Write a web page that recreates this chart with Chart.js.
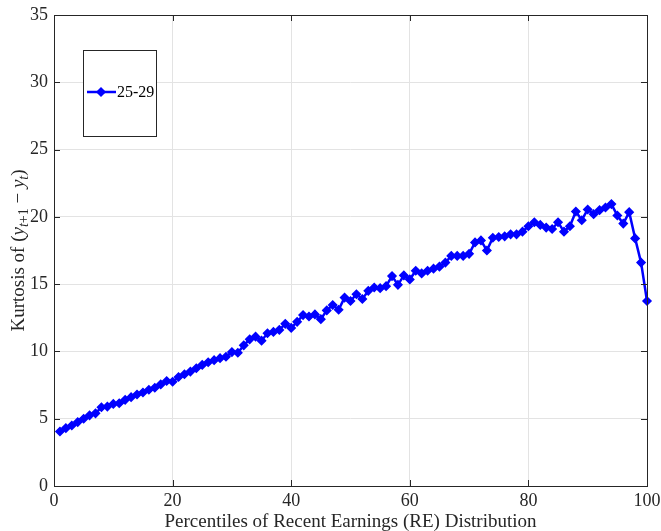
<!DOCTYPE html>
<html>
<head>
<meta charset="utf-8">
<script src="https://cdn.jsdelivr.net/npm/chart.js@4.4.1/dist/chart.umd.min.js"></script>
<style>
  html, body { margin: 0; padding: 0; background: #fff; }
  canvas { display: block; }
</style>
</head>
<body>
<canvas id="kurtChart" width="661" height="531"></canvas>
<script>
  // Percentiles of recent earnings (x) and kurtosis of earnings growth (y), age group 25-29
  const percentiles = [
    1, 2, 3, 4, 5, 6, 7, 8, 9, 10, 11, 12, 13, 14, 15, 16, 17, 18, 19, 20,
    21, 22, 23, 24, 25, 26, 27, 28, 29, 30, 31, 32, 33, 34, 35, 36, 37, 38, 39, 40,
    41, 42, 43, 44, 45, 46, 47, 48, 49, 50, 51, 52, 53, 54, 55, 56, 57, 58, 59, 60,
    61, 62, 63, 64, 65, 66, 67, 68, 69, 70, 71, 72, 73, 74, 75, 76, 77, 78, 79, 80,
    81, 82, 83, 84, 85, 86, 87, 88, 89, 90, 91, 92, 93, 94, 95, 96, 97, 98, 99, 100
  ];
  const kurtosis = [
    4.05, 4.30, 4.50, 4.75, 5.00, 5.25, 5.40, 5.85, 5.90, 6.10,
    6.15, 6.40, 6.60, 6.80, 6.95, 7.15, 7.30, 7.55, 7.80, 7.75,
    8.10, 8.30, 8.50, 8.75, 9.00, 9.20, 9.35, 9.50, 9.60, 9.95,
    9.90, 10.45, 10.90, 11.10, 10.80, 11.35, 11.45, 11.60, 12.05, 11.75,
    12.20, 12.70, 12.60, 12.75, 12.40, 13.05, 13.45, 13.10, 14.00, 13.75,
    14.25, 13.90, 14.50, 14.75, 14.70, 14.85, 15.60, 14.95, 15.65, 15.35,
    16.00, 15.80, 16.00, 16.15, 16.30, 16.60, 17.10, 17.10, 17.10, 17.25,
    18.10, 18.25, 17.50, 18.45, 18.50, 18.55, 18.70, 18.70, 18.90, 19.30,
    19.60, 19.40, 19.20, 19.10, 19.60, 18.90, 19.30, 20.40, 19.75, 20.55,
    20.20, 20.50, 20.70, 20.95, 20.10, 19.50, 20.35, 18.40, 16.60, 13.75
  ];
  const seriesLabel = "25-29";
  const xTicks = [0, 20, 40, 60, 80, 100];
  const yTicks = [0, 5, 10, 15, 20, 25, 30, 35];

  const FONT = "'Liberation Serif', 'DejaVu Serif', serif";
  const INK = "#262626";
  const BLUE = "#0000ff";

  // Box around the axes with inward ticks on all four sides
  const axesBox = {
    id: "axesBox",
    afterDraw(chart) {
      const { ctx, chartArea: a, scales } = chart;
      ctx.save();
      ctx.strokeStyle = INK;
      ctx.lineWidth = 1;
      ctx.strokeRect(Math.round(a.left) + 0.5, Math.round(a.top) + 0.5,
        Math.round(a.right - a.left), Math.round(a.bottom - a.top));
      const len = 6;
      ctx.beginPath();
      xTicks.forEach(v => {
        const x = Math.round(scales.x.getPixelForValue(v)) + 0.5;
        ctx.moveTo(x, a.bottom); ctx.lineTo(x, a.bottom - len);
        ctx.moveTo(x, a.top); ctx.lineTo(x, a.top + len);
      });
      yTicks.forEach(v => {
        const y = Math.round(scales.y.getPixelForValue(v)) + 0.5;
        ctx.moveTo(a.left, y); ctx.lineTo(a.left + len, y);
        ctx.moveTo(a.right, y); ctx.lineTo(a.right - len, y);
      });
      ctx.stroke();
      ctx.restore();
    }
  };

  // Axis titles; the y title has math subscripts so it is drawn piece by piece
  const axisTitles = {
    id: "axisTitles",
    afterDraw(chart) {
      const { ctx, chartArea: a } = chart;
      ctx.save();
      ctx.fillStyle = INK;
      ctx.textBaseline = "alphabetic";

      ctx.font = `19px ${FONT}`;
      ctx.textAlign = "center";
      ctx.fillText("Percentiles of Recent Earnings (RE) Distribution", (a.left + a.right) / 2, 527);

      const parts = [
        { t: "Kurtosis of (", f: `19px ${FONT}`, dy: 0 },
        { t: "y", f: `italic 19px ${FONT}`, dy: 0 },
        { t: "t", f: `italic 14px ${FONT}`, dy: 4 },
        { t: "+1", f: `14px ${FONT}`, dy: 4 },
        { t: " \u2212 ", f: `19px ${FONT}`, dy: 0 },
        { t: "y", f: `italic 19px ${FONT}`, dy: 0 },
        { t: "t", f: `italic 14px ${FONT}`, dy: 4 },
        { t: ")", f: `19px ${FONT}`, dy: 0 }
      ];
      let total = 0;
      parts.forEach(p => { ctx.font = p.f; p.w = ctx.measureText(p.t).width; total += p.w; });
      ctx.translate(24, (a.top + a.bottom) / 2);
      ctx.rotate(-Math.PI / 2);
      ctx.textAlign = "left";
      let x = -total / 2;
      parts.forEach(p => {
        ctx.font = p.f;
        ctx.fillText(p.t, x, p.dy);
        x += p.w;
      });
      ctx.restore();
    }
  };

  // Legend box in the upper-left corner of the plot
  const legendBox = {
    id: "legendBox",
    afterDraw(chart) {
      const { ctx } = chart;
      const ds = chart.data.datasets[0];
      const r = ds.pointRadius;
      ctx.save();
      ctx.fillStyle = "#fff";
      ctx.fillRect(83, 50, 73, 86);
      ctx.strokeStyle = INK;
      ctx.lineWidth = 1;
      ctx.strokeRect(83.5, 50.5, 73, 86);
      const y = 92;
      ctx.strokeStyle = ds.borderColor;
      ctx.lineWidth = ds.borderWidth;
      ctx.beginPath();
      ctx.moveTo(87, y); ctx.lineTo(116, y);
      ctx.stroke();
      ctx.fillStyle = ds.pointBackgroundColor;
      ctx.strokeStyle = ds.pointBorderColor;
      ctx.lineWidth = ds.pointBorderWidth;
      ctx.beginPath();
      ctx.moveTo(101 - r, y); ctx.lineTo(101, y - r);
      ctx.lineTo(101 + r, y); ctx.lineTo(101, y + r);
      ctx.closePath(); ctx.fill(); ctx.stroke();
      ctx.fillStyle = "#000";
      ctx.font = `16px ${FONT}`;
      ctx.textAlign = "left";
      ctx.textBaseline = "middle";
      ctx.fillText(ds.label, 117, y + 1);
      ctx.restore();
    }
  };

  const ctxK = document.getElementById("kurtChart").getContext("2d");
  const chartK = new Chart(ctxK, {
    type: "line",
    data: {
      datasets: [{
        label: seriesLabel,
        data: percentiles.map((p, i) => ({ x: p, y: kurtosis[i] })),
        borderColor: BLUE,
        backgroundColor: BLUE,
        borderWidth: 2.5,
        tension: 0,
        pointStyle: "rectRot",
        pointRadius: 4,
        pointBorderWidth: 1.5,
        pointBackgroundColor: BLUE,
        pointBorderColor: BLUE,
        clip: false
      }]
    },
    options: {
      responsive: false,
      animation: false,
      layout: { padding: { top: 15, right: 14, left: 0, bottom: 0 } },
      plugins: { legend: { display: false }, tooltip: { enabled: false } },
      scales: {
        x: {
          type: "linear",
          min: 0, max: 100,
          afterBuildTicks: s => { s.ticks = xTicks.map(v => ({ value: v })); },
          afterFit: s => { s.height = 45; s.paddingLeft = 0; s.paddingRight = 0; },
          grid: { color: "#e3e3e3", drawTicks: false },
          border: { display: false },
          ticks: { color: INK, padding: 4, maxRotation: 0, font: { family: FONT, size: 18 } }
        },
        y: {
          min: 0, max: 35,
          afterBuildTicks: s => { s.ticks = yTicks.map(v => ({ value: v })); },
          afterFit: s => { s.width = 54; s.paddingTop = 0; s.paddingBottom = 0; },
          grid: { color: "#e3e3e3", drawTicks: false },
          border: { display: false },
          ticks: { color: INK, padding: 6, font: { family: FONT, size: 18 } }
        }
      }
    },
    plugins: [axesBox, axisTitles, legendBox]
  });
</script>
</body>
</html>
